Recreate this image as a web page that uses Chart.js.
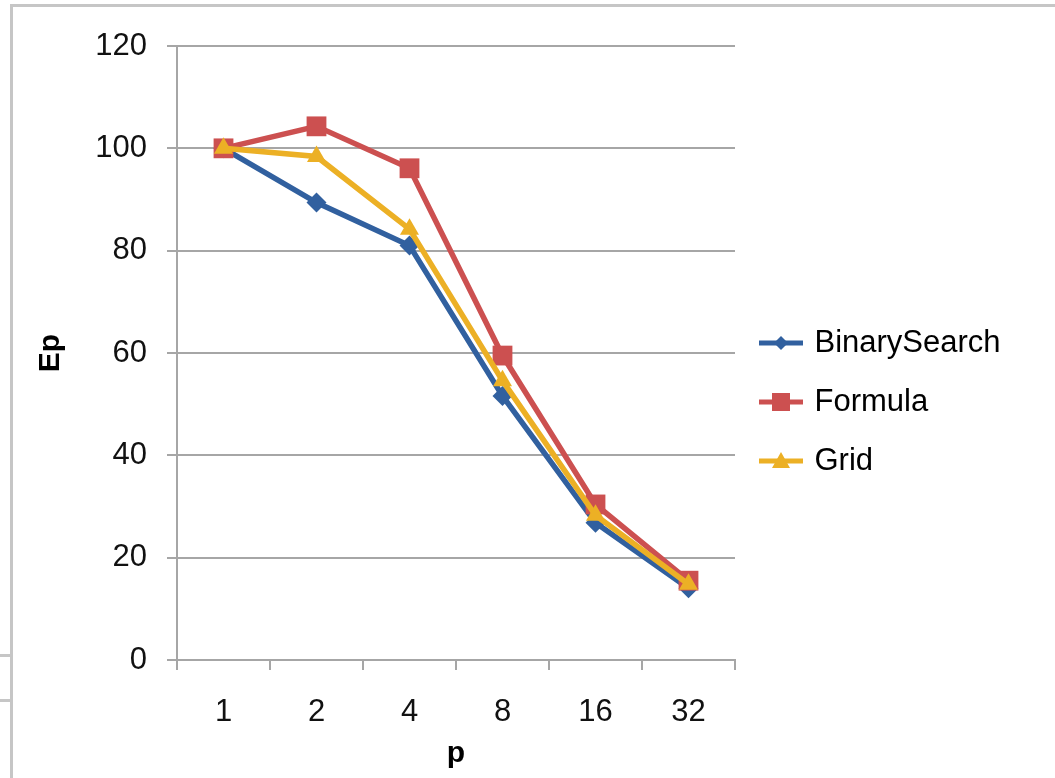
<!DOCTYPE html>
<html>
<head>
<meta charset="utf-8">
<script src="https://cdn.jsdelivr.net/npm/chart.js@4/dist/chart.umd.min.js"></script>
<style>
  body { margin: 0; background: #fff; }
  #wrap { position: relative; width: 1055px; height: 778px; overflow: hidden; }
  #frame { position: absolute; left: 10px; top: 4px; right: -10px; bottom: -10px;
           border-top: 3px solid #c6c6c6; border-left: 3px solid #c6c6c6; }
  .stub { position: absolute; left: 0; width: 10px; height: 3px; background: #c6c6c6; }
  canvas { position: absolute; left: 0; top: 0; }
</style>
</head>
<body>
<div id="wrap">
  <div id="frame"></div>
  <div class="stub" style="top:654px"></div>
  <div class="stub" style="top:699px"></div>
  <canvas id="myChart" width="1055" height="778"></canvas>
</div>
<script>
const categories = ['1', '2', '4', '8', '16', '32'];
const binarySearch = [100, 89.4, 81, 51.6, 26.8, 14.0];
const formula = [100, 104.3, 96.1, 59.5, 30.4, 15.5];
const grid = [100, 98.4, 84.2, 54.6, 28.3, 14.8];
const yTicks = [0, 20, 40, 60, 80, 100, 120];

const blue = '#31609f';
const red = '#cc5050';
const yellow = '#ecb025';
const axisGrey = '#a6a6a6';
const font = 'Liberation Sans, Arial, sans-serif';

// little line+marker icons for the legend, like Excel draws them
function legendIcon(color, shape) {
   const c = document.createElement('canvas');
   c.width = 44; c.height = 22;
   const g = c.getContext('2d');
   g.strokeStyle = color; g.fillStyle = color; g.lineWidth = 5;
   g.beginPath(); g.moveTo(0, 11); g.lineTo(44, 11); g.stroke();
   g.beginPath();
   if (shape === 'diamond') {
      g.moveTo(22, 4); g.lineTo(29, 11); g.lineTo(22, 18); g.lineTo(15, 11);
   } else if (shape === 'square') {
      g.rect(13, 2, 18, 18);
   } else {
      g.moveTo(22, 2); g.lineTo(31, 18); g.lineTo(13, 18);
   }
   g.closePath(); g.fill();
   return c;
}

// legend takes a fixed slice on the right so the plot ends where Excel's does
const legendWidth = {
   id: 'legendWidth',
   afterInit(chart) {
      const fit = chart.legend.fit;
      chart.legend.fit = function () {
         fit.call(this);
         this.width = 320;
      };
   }
};

const series = [
   { label: 'BinarySearch', data: binarySearch, color: blue, pointStyle: 'rectRot', radius: 10, shape: 'diamond', order: 2 },
   { label: 'Formula', data: formula, color: red, pointStyle: 'rect', radius: 14, shape: 'square', order: 1 },
   { label: 'Grid', data: grid, color: yellow, pointStyle: 'triangle', radius: 11, shape: 'triangle', order: 0 }
];

const ctx = document.getElementById('myChart').getContext('2d');
const chart = new Chart(ctx, {
   type: 'line',
   plugins: [legendWidth],
   data: {
      labels: categories,
      datasets: series.map(s => ({
         label: s.label,
         data: s.data,
         borderColor: s.color,
         backgroundColor: s.color,
         borderWidth: 5.5,
         pointStyle: s.pointStyle,
         pointRadius: s.radius,
         pointHoverRadius: s.radius,
         pointBorderWidth: 0,
         tension: 0,
         order: s.order
      }))
   },
   options: {
      responsive: false,
      animation: false,
      layout: { padding: { top: 46, left: 0, right: 0, bottom: 20 } },
      plugins: {
         tooltip: { enabled: false },
         legend: {
            position: 'right',
            align: 'center',
            labels: {
               usePointStyle: true,
               pointStyleWidth: 36,
               color: '#111',
               padding: 28,
               font: { family: font, size: 31 },
               generateLabels: () => series.map((s, i) => ({
                  text: s.label,
                  datasetIndex: i,
                  pointStyle: legendIcon(s.color, s.shape),
                  fillStyle: s.color,
                  strokeStyle: s.color,
                  lineWidth: 0,
                  hidden: false
               }))
            }
         }
      },
      scales: {
         x: {
            offset: true,
            afterFit: scale => { scale.height = 98; },
            grid: { offset: true, drawOnChartArea: false, color: axisGrey, lineWidth: 2, tickLength: 10 },
            border: { color: axisGrey, width: 2 },
            ticks: { color: '#111', padding: 24, font: { family: font, size: 31 } },
            title: { display: true, text: 'p', color: '#000', padding: { top: 0, bottom: -14 },
                     font: { family: font, size: 30, weight: 'bold' } }
         },
         y: {
            min: 0,
            max: 120,
            afterFit: scale => { scale.width = 177; },
            afterBuildTicks: scale => { scale.ticks = yTicks.map(v => ({ value: v })); },
            grid: { color: axisGrey, lineWidth: 2, tickLength: 10 },
            border: { color: axisGrey, width: 2 },
            ticks: { color: '#111', padding: 20, font: { family: font, size: 31 } },
            title: { display: true, text: 'Ep', color: '#000', padding: { top: 33, bottom: 0 },
                     font: { family: font, size: 30, weight: 'bold' } }
         }
      }
   }
});
</script>
</body>
</html>
